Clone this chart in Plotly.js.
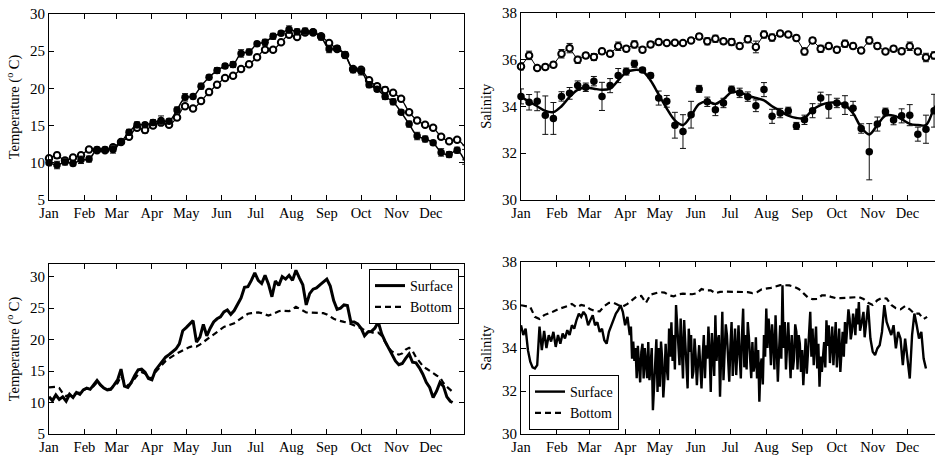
<!DOCTYPE html>
<html>
<head>
<meta charset="utf-8">
<script src="https://cdn.plot.ly/plotly-3.0.1.min.js"></script>
<style>
  html, body { margin: 0; padding: 0; background: #fff; overflow: hidden; }
  #chart { width: 945px; height: 455px; }
</style>
</head>
<body>
<div id="chart"></div>
<script>
// ---- Month ticks (day of year) ----
const monthDays = [1, 32, 60, 91, 121, 152, 182, 213, 244, 274, 305, 335];
const monthNames = ['Jan', 'Feb', 'Mar', 'Apr', 'May', 'Jun', 'Jul', 'Aug', 'Sep', 'Oct', 'Nov', 'Dec'];

// ---- Weekly means (top panels) ----
const weekDay = [1, 8, 15, 22, 29, 36, 43, 50, 57, 64, 71, 78, 85, 92, 99, 106, 113, 120, 127, 134,
  141, 148, 155, 162, 169, 176, 183, 190, 197, 204, 211, 218, 225, 232, 239, 246, 253, 260, 267, 274,
  281, 288, 295, 302, 309, 316, 323, 330, 337, 344, 351, 358, 365];

const tempSurfWeek = [10.0, 9.7, 10.1, 9.9, 10.4, 10.5, 11.8, 11.8, 11.8, 12.8, 14.1, 15.1, 15.1, 15.4, 15.7, 15.6, 17.1, 18.8, 18.9, 20.3,
  21.5, 22.4, 23.0, 23.2, 24.7, 24.9, 26.0, 26.2, 27.0, 27.4, 27.9, 27.6, 27.7, 27.6, 26.9, 25.3, 25.4, 24.5, 22.5, 22.3,
  20.5, 19.9, 18.9, 18.2, 16.8, 15.2, 13.6, 13.2, 12.7, 11.4, 11.1, 11.7, 10.1];
const tempSurfErr = [0.4, 0.5, 0.4, 0.3, 0.5, 0.4, 0.3, 0.3, 0.5, 0.3, 0.4, 0.4, 0.3, 0.4, 0.6, 0.3, 0.4, 0.5, 0.3, 0.4,
  0.3, 0.4, 0.3, 0.4, 0.5, 0.4, 0.3, 0.4, 0.4, 0.3, 0.5, 0.4, 0.4, 0.3, 0.4, 0.5, 0.3, 0.4, 0.4, 0.5,
  0.4, 0.3, 0.4, 0.4, 0.3, 0.4, 0.5, 0.4, 0.3, 0.5, 0.4, 0.4, 0.3];
const tempBotWeek = [10.6, 11.0, 10.3, 10.7, 11.0, 11.8, 11.7, 11.7, 12.1, 12.8, 13.5, 14.7, 14.4, 15.0, 15.4, 15.1, 16.1, 17.6, 17.3, 18.3,
  19.5, 20.5, 21.4, 21.7, 22.6, 23.25, 24.2, 25.2, 25.2, 26.2, 27.2, 26.9, 27.5, 27.5, 27.0, 26.1, 25.3, 24.5, 22.6, 22.5,
  21.1, 20.3, 19.8, 19.4, 18.6, 16.8, 15.7, 15.1, 14.7, 13.5, 12.9, 13.1, 12.1];
const tempBotErr = [0.3, 0.4, 0.3, 0.3, 0.3, 0.3, 0.3, 0.3, 0.3, 0.3, 0.3, 0.3, 0.4, 0.3, 0.3, 0.3, 0.3, 0.3, 0.3, 0.3,
  0.3, 0.3, 0.3, 0.3, 0.3, 0.3, 0.3, 0.3, 0.3, 0.3, 0.3, 0.3, 0.3, 0.3, 0.3, 0.3, 0.3, 0.4, 0.3, 0.3,
  0.3, 0.3, 0.4, 0.3, 0.3, 0.3, 0.3, 0.3, 0.3, 0.3, 0.3, 0.3, 0.3];

const salSurfWeek = [34.42, 34.17, 34.21, 33.62, 33.48, 34.42, 34.55, 34.88, 34.81, 35.07, 34.42, 34.88, 35.31, 35.48, 35.81, 35.55, 35.31, 34.35, 34.21, 33.19,
  32.92, 33.64, 34.74, 34.19, 33.85, 34.14, 34.71, 34.57, 34.41, 34.02, 34.71, 33.57, 33.71, 33.81, 33.16, 33.42, 33.81, 34.35, 33.99, 34.14,
  34.05, 33.91, 33.05, 32.06, 33.24, 33.77, 33.41, 33.59, 33.62, 32.81, 33.02, 33.81, 34.3];
const salSurfErr = [0.32, 0.33, 0.4, 0.82, 0.68, 0.2, 0.25, 0.2, 0.18, 0.2, 0.6, 0.3, 0.3, 0.15, 0.15, 0.1, 0.1, 0.3, 0.25, 0.55,
  0.72, 0.57, 0.15, 0.2, 0.25, 0.2, 0.15, 0.2, 0.2, 0.25, 0.3, 0.3, 0.2, 0.15, 0.15, 0.2, 0.3, 0.25, 0.5, 0.2,
  0.4, 0.3, 0.2, 1.2, 0.3, 0.15, 0.2, 0.3, 0.45, 0.3, 0.6, 0.7, 0.5];
const salSurfSmooth = [34.4, 34.2, 34.0, 33.8, 33.75, 34.0, 34.4, 34.7, 34.8, 34.75, 34.7, 34.75, 35.1, 35.45, 35.55, 35.5, 35.1, 34.5, 33.9, 33.4,
  33.2, 33.6, 34.1, 34.2, 34.1, 34.3, 34.6, 34.6, 34.45, 34.35, 34.25, 34.0, 33.8, 33.6, 33.5, 33.5, 33.85, 34.05, 34.15, 34.15,
  34.05, 33.7, 33.1, 32.8, 33.2, 33.6, 33.6, 33.45, 33.25, 33.2, 33.2, 33.9, 34.4];
const salBotWeek = [35.70, 36.17, 35.63, 35.68, 35.77, 36.24, 36.48, 35.98, 36.17, 36.10, 36.35, 36.24, 36.56, 36.45, 36.64, 36.41, 36.64, 36.74, 36.70, 36.71,
  36.70, 36.81, 36.98, 36.77, 36.88, 36.77, 36.74, 36.57, 36.86, 36.53, 37.06, 36.93, 37.10, 37.06, 36.91, 36.34, 36.81, 36.45, 36.57, 36.41,
  36.67, 36.57, 36.38, 36.81, 36.57, 36.34, 36.45, 36.35, 36.56, 36.34, 36.08, 36.17, 36.1];
const salBotErr = [0.15, 0.18, 0.1, 0.1, 0.12, 0.18, 0.2, 0.15, 0.12, 0.15, 0.12, 0.12, 0.18, 0.12, 0.15, 0.12, 0.12, 0.12, 0.1, 0.1,
  0.1, 0.1, 0.12, 0.15, 0.15, 0.12, 0.15, 0.12, 0.15, 0.25, 0.15, 0.15, 0.12, 0.1, 0.12, 0.15, 0.12, 0.15, 0.12, 0.12,
  0.15, 0.12, 0.12, 0.15, 0.12, 0.1, 0.12, 0.12, 0.18, 0.12, 0.18, 0.15, 0.15];

// ---- Continuous records (bottom panels) ----
const tempDay = [1, 4, 7, 10, 13, 16, 19, 22, 25, 28, 31, 34, 37, 40, 43, 46, 49, 52, 55, 58,
  61, 64, 67, 70, 73, 76, 79, 82, 85, 88, 91, 94, 97, 100, 103, 106, 109, 112, 115, 118,
  121, 124, 127, 130, 133, 136, 139, 142, 145, 148, 151, 154, 157, 160, 163, 166, 169, 172, 175, 178,
  181, 184, 187, 190, 193, 196, 199, 202, 205, 208, 211, 214, 217, 220, 223, 226, 229, 232, 235, 238,
  241, 244, 247, 250, 253, 256, 259, 262, 265, 268, 271, 274, 277, 280, 283, 286, 289, 292, 295, 298,
  301, 304, 307, 310, 313, 316, 319, 322, 325, 328, 331, 334, 337, 340, 343, 346, 349, 352, 354];
const tempSurfDaily = [10.9, 10.3, 11.2, 10.5, 10.9, 10.2, 11.3, 10.8, 11.6, 11.3, 12.0, 12.3, 12.1, 12.9, 13.5, 12.8, 12.3, 12.0, 12.1, 12.8,
  13.6, 15.3, 12.6, 12.4, 13.2, 14.3, 15.2, 15.3, 14.8, 13.8, 13.6, 15.1, 15.8, 16.6, 17.2, 17.6, 18.0, 18.5, 19.3, 21.4,
  21.9, 22.5, 23.0, 19.6, 20.4, 22.4, 20.6, 21.8, 22.8, 23.3, 23.6, 24.4, 24.7, 24.0, 24.6, 25.6, 26.6, 28.3, 28.4, 29.4,
  30.6, 29.4, 28.9, 30.2, 28.8, 26.8, 29.3, 28.6, 30.0, 29.6, 30.2, 29.4, 31.0, 29.8, 28.7, 25.5, 27.3, 28.0, 28.2, 28.7,
  29.2, 29.6, 28.5, 26.2, 24.8, 25.0, 25.5, 25.4, 22.8, 22.8, 22.5, 21.8, 20.6, 21.2, 21.3, 21.8, 22.8, 20.9, 19.7, 18.7,
  17.6, 16.6, 16.0, 16.2, 17.0, 17.7, 16.4, 16.3, 15.5, 14.5, 13.2, 12.4, 10.8, 11.8, 13.2, 12.6, 10.9, 10.2, 10.0];
const tempBotDaily = [12.4, 12.4, 12.5, 12.3, 11.5, 11.0, 11.3, 11.2, 11.5, 11.6, 12.0, 12.2, 12.2, 12.6, 13.2, 12.8, 12.3, 12.1, 12.2, 12.6,
  13.1, 14.2, 13.2, 12.7, 13.1, 13.8, 14.5, 14.8, 14.6, 14.0, 13.8, 14.8, 15.4, 16.0, 16.6, 17.0, 17.4, 17.7, 18.0, 18.3,
  18.6, 18.8, 19.0, 18.9, 19.2, 19.6, 20.0, 20.4, 20.9, 21.3, 21.7, 22.0, 22.2, 22.4, 22.6, 23.0, 23.4, 23.8, 24.1, 24.2,
  24.3, 24.3, 24.2, 24.0, 23.8, 24.0, 24.3, 24.5, 24.6, 24.5, 24.5, 24.8, 25.2, 24.9, 24.6, 24.3, 24.3, 24.3, 24.2, 24.2,
  24.2, 24.0, 23.6, 23.3, 23.1, 22.9, 22.8, 22.7, 22.5, 22.3, 22.1, 21.8, 21.5, 21.3, 21.1, 21.0, 21.1, 20.6, 19.6, 18.7,
  18.1, 17.8, 17.6, 17.8, 18.4, 18.7, 18.2, 17.2, 16.4, 15.8, 15.4, 15.0, 14.6, 14.3, 14.0, 13.1, 12.5, 12.1, 11.7];

// surface salinity, odd days through the year
const salSurfDay = [1, 3, 5, 7, 9, 11, 13, 15, 17, 19, 21, 23, 25, 27, 29, 31, 33, 35, 37, 39,
  41, 43, 45, 47, 49, 51, 53, 55, 57, 59, 61, 63, 65, 67, 69, 71, 73, 75, 77, 79,
  81, 83, 85, 87, 89, 91, 93, 95, 97, 99, 101, 103, 105, 107, 109, 111, 113, 115, 117, 119,
  121, 123, 125, 127, 129, 131, 133, 135, 137, 139, 141, 143, 145, 147, 149, 151, 153, 155, 157, 159,
  161, 163, 165, 167, 169, 171, 173, 175, 177, 179, 181, 183, 185, 187, 189, 191, 193, 195, 197, 199,
  201, 203, 205, 207, 209, 211, 213, 215, 217, 219, 221, 223, 225, 227, 229, 231, 233, 235, 237, 239,
  241, 243, 245, 247, 249, 251, 253, 255, 257, 259, 261, 263, 265, 267, 269, 271, 273, 275, 277, 279,
  281, 283, 285, 287, 289, 291, 293, 295, 297, 299, 301, 303, 305, 307, 309, 311, 313, 315, 317, 319,
  321, 323, 325, 327, 329, 331, 333, 335, 337, 339, 341, 343, 345, 347, 349, 351];
const salSurfDaily = [35.06, 34.6, 34.9, 33.9, 33.36, 33.1, 33.05, 33.2, 35.0, 33.9, 34.8, 34.0, 34.6, 34.3, 34.75, 34.05, 34.6, 34.2, 34.67, 34.44,
  34.83, 34.6, 35.06, 34.9, 35.3, 35.6, 35.45, 35.68, 35.52, 35.06, 35.3, 35.52, 35.06, 35.2, 34.75, 34.9, 34.36, 34.2, 34.75, 35.06,
  35.37, 35.6, 35.76, 35.99, 35.68, 35.06, 35.45, 34.6, 33.5, 33.4, 32.6, 33.2, 33.82, 32.58, 33.3, 34.28, 33.2, 31.11, 33.5, 31.96,
  32.2, 33.51, 32.6, 33.05, 34.9, 35.2, 34.6, 36.0, 34.28, 35.37, 32.58, 34.13, 32.12, 33.82, 32.58, 34.44, 32.27, 34.13, 32.12, 34.6,
  34.13, 35.0, 31.96, 33.82, 35.52, 34.28, 31.73, 35.68, 33.82, 34.6, 32.43, 35.21, 33.82, 32.74, 35.06, 32.58, 35.83, 34.6, 35.21, 33.51,
  34.28, 33.2, 32.58, 31.5, 33.51, 34.6, 35.83, 35.37, 33.2, 34.28, 35.52, 32.43, 35.06, 36.92, 35.21, 34.13, 33.82, 34.6, 33.51, 34.75,
  34.6, 32.89, 32.27, 34.44, 33.82, 35.68, 34.9, 34.28, 33.05, 32.2, 32.89, 34.28, 35.29, 35.06, 34.28, 33.2, 35.21, 34.28, 32.89, 34.75,
  35.21, 34.9, 35.37, 34.75, 35.21, 35.83, 36.14, 35.06, 35.68, 35.06, 35.99, 34.44, 33.82, 33.67, 33.98, 34.13, 34.75, 35.99, 35.21, 34.9,
  34.6, 35.06, 33.98, 34.75, 34.44, 33.2, 34.44, 33.51, 32.58, 34.6, 35.6, 35.06, 34.44, 34.75, 33.51, 33.05];
// surface salinity, even days through the variable spring-summer period
const salSurfEvenDay = [96, 98, 100, 102, 104, 106, 108, 110, 112, 114, 116, 118, 120, 122, 124, 126, 128, 130, 132, 134,
  136, 138, 140, 142, 144, 146, 148, 150, 152, 154, 156, 158, 160, 162, 164, 166, 168, 170, 172, 174,
  176, 178, 180, 182, 184, 186, 188, 190, 192, 194, 196, 198, 200, 202, 204, 206, 208, 210, 212, 214,
  216, 218, 220, 222, 224, 226, 228, 230, 232, 234, 236, 238, 240, 242, 244, 246, 248, 250, 252, 254,
  256, 258, 260, 262, 264, 266, 268, 270, 272, 274, 276, 278, 280, 282, 284, 286, 288, 290, 292, 294,
  296, 298];
const salSurfEven = [35.0, 34.3, 34.0, 34.1, 32.4, 34.2, 34.0, 32.6, 32.5, 34.0, 32.3, 34.4, 34.0, 34.3, 31.7, 34.2, 32.5, 33.6, 33.4, 33.0,
  34.9, 33.2, 33.8, 35.3, 33.0, 34.9, 34.6, 32.9, 33.6, 33.3, 33.1, 33.6, 32.6, 33.5, 33.8, 34.7, 32.7, 33.4, 34.6, 33.5,
  32.5, 35.1, 33.6, 34.1, 32.7, 34.9, 34.2, 33.6, 34.6, 33.1, 33.0, 34.5, 32.6, 32.9, 34.5, 33.9, 33.2, 32.3, 33.6, 34.0,
  34.6, 35.1, 33.0, 34.2, 33.8, 33.5, 34.0, 33.0, 35.2, 32.6, 33.0, 35.1, 33.0, 34.2, 33.9, 33.3, 32.8, 34.3, 33.6, 33.2,
  35.0, 34.2, 33.6, 33.8, 33.1, 34.1, 33.3, 35.0, 34.0, 33.1, 34.9, 34.0, 33.6, 34.2, 35.8, 34.4, 35.6, 34.6, 35.1, 34.8,
  35.5, 34.5];

const salBotDay = [1, 5, 9, 13, 17, 21, 25, 29, 33, 37, 41, 45, 49, 53, 57, 61, 65, 69, 73, 77,
  81, 85, 89, 93, 97, 101, 105, 109, 113, 117, 121, 125, 129, 133, 137, 141, 145, 149, 153, 157,
  161, 165, 169, 173, 177, 181, 185, 189, 193, 197, 201, 205, 209, 213, 217, 221, 225, 229, 233, 237,
  241, 245, 249, 253, 257, 261, 265, 269, 273, 277, 281, 285, 289, 293, 297, 301, 305, 309, 313, 317,
  321, 325, 329, 333, 337, 341, 345, 349, 352];
const salBotDaily = [35.99, 35.94, 35.91, 35.45, 35.35, 35.53, 35.6, 35.7, 35.8, 35.87, 35.95, 36.05, 35.9, 36.0, 35.95, 35.8, 35.72, 35.7, 35.95, 36.1,
  36.1, 36.0, 35.93, 36.05, 36.22, 36.4, 36.42, 36.1, 36.48, 36.53, 36.6, 36.58, 36.45, 36.4, 36.5, 36.53, 36.5, 36.5, 36.55, 36.74,
  36.68, 36.68, 36.55, 36.61, 36.62, 36.62, 36.61, 36.61, 36.61, 36.6, 36.55, 36.6, 36.73, 36.76, 36.8, 36.86, 36.92, 36.92, 36.91, 36.85,
  36.75, 36.55, 36.35, 36.27, 36.28, 36.45, 36.45, 36.38, 36.32, 36.32, 36.33, 36.33, 36.37, 36.37, 36.28, 36.1, 36.0, 36.22, 36.33, 36.3,
  36.0, 35.85, 35.8, 35.95, 35.8, 35.6, 35.6, 35.35, 35.45];

// merge the odd-day and even-day surface salinity records into one time-ordered series
const salSurfAll = salSurfDay.map((d, i) => [d, salSurfDaily[i]])
  .concat(salSurfEvenDay.map((d, i) => [d, salSurfEven[i]]))
  .sort((a, b) => a[0] - b[0]);

// ---- Drawing ----
const W = 945, H = 455;
const FONT = '"Liberation Serif", "Times New Roman", Times, serif';
const px = v => v / W;
const py = v => 1 - v / H;

function errBars(arr) {
  return { type: 'data', array: arr, visible: true, color: '#111', thickness: 1, width: 3 };
}
const openMarker = { symbol: 'circle', size: 6.5, color: '#ffffff', line: { color: '#000', width: 2 } };
const filledMarker = { symbol: 'circle', size: 7.5, color: '#000', line: { width: 0 } };

const traces = [
  // Top-left: weekly temperature
  { x: weekDay, y: tempBotWeek, xaxis: 'x', yaxis: 'y', mode: 'lines+markers', showlegend: false, cliponaxis: false,
    line: { color: '#000', width: 1.3, shape: 'spline' }, marker: openMarker, error_y: errBars(tempBotErr) },
  { x: weekDay, y: tempSurfWeek, xaxis: 'x', yaxis: 'y', mode: 'lines+markers', showlegend: false, cliponaxis: false,
    line: { color: '#000', width: 1.5, shape: 'spline' }, marker: filledMarker, error_y: errBars(tempSurfErr) },

  // Top-right: weekly salinity
  { x: weekDay, y: salBotWeek, xaxis: 'x2', yaxis: 'y2', mode: 'lines+markers', showlegend: false, cliponaxis: false,
    line: { color: '#000', width: 1 }, marker: openMarker, error_y: errBars(salBotErr) },
  { x: weekDay, y: salSurfWeek, xaxis: 'x2', yaxis: 'y2', mode: 'markers', showlegend: false, cliponaxis: false,
    marker: filledMarker, error_y: errBars(salSurfErr) },
  { x: weekDay, y: salSurfSmooth, xaxis: 'x2', yaxis: 'y2', mode: 'lines', showlegend: false, cliponaxis: false,
    line: { color: '#000', width: 2.5, shape: 'spline' } },

  // Bottom-left: continuous temperature
  { x: tempDay, y: tempSurfDaily, xaxis: 'x3', yaxis: 'y3', mode: 'lines', name: 'Surface', legend: 'legend',
    line: { color: '#000', width: 3 } },
  { x: tempDay, y: tempBotDaily, xaxis: 'x3', yaxis: 'y3', mode: 'lines', name: 'Bottom', legend: 'legend',
    line: { color: '#000', width: 2.2, dash: '6px,4px' } },

  // Bottom-right: continuous salinity
  { x: salSurfAll.map(p => p[0]), y: salSurfAll.map(p => p[1]), xaxis: 'x4', yaxis: 'y4', mode: 'lines',
    name: 'Surface', legend: 'legend2', line: { color: '#000', width: 2.4 } },
  { x: salBotDay, y: salBotDaily, xaxis: 'x4', yaxis: 'y4', mode: 'lines', name: 'Bottom', legend: 'legend2',
    line: { color: '#000', width: 2.2, dash: '6px,4px' } }
];

function xAxis(domain, anchor) {
  return {
    domain: domain, anchor: anchor, range: [1, 364],
    tickmode: 'array', tickvals: monthDays, ticktext: monthNames,
    ticks: 'inside', ticklen: 5, tickcolor: '#000', tickwidth: 1,
    showline: true, linecolor: '#000', linewidth: 1, mirror: 'allticks',
    showgrid: false, zeroline: false,
    tickfont: { family: FONT, size: 14.5, color: '#000' }
  };
}
function yAxis(domain, anchor, range, dtick, title) {
  return {
    domain: domain, anchor: anchor, range: range,
    tickmode: 'linear', tick0: range[0], dtick: dtick,
    ticks: 'inside', ticklen: 5, tickcolor: '#000', tickwidth: 1,
    showline: true, linecolor: '#000', linewidth: 1, mirror: 'allticks',
    showgrid: false, zeroline: false,
    tickfont: { family: FONT, size: 15, color: '#000' },
    title: { text: title, font: { family: FONT, size: 14.5, color: '#000' }, standoff: 6 }
  };
}

const leftDom = [px(49), px(464)];
const rightDom = [px(521), px(941)];
const legendStyle = {
  bgcolor: '#fff', bordercolor: '#000', borderwidth: 1,
  font: { family: FONT, size: 14, color: '#000' },
  tracegroupgap: 0, itemwidth: 30
};

const layout = {
  width: W, height: H,
  margin: { l: 0, r: 0, t: 0, b: 0 },
  paper_bgcolor: '#fff', plot_bgcolor: '#fff',
  font: { family: FONT, color: '#000' },
  showlegend: true,
  xaxis: xAxis(leftDom, 'y'),
  yaxis: yAxis([py(200), py(14)], 'x', [5, 30], 5, 'Temperature (<sup>o</sup> C)'),
  xaxis2: xAxis(rightDom, 'y2'),
  yaxis2: yAxis([py(200), py(12.5)], 'x2', [30, 38], 2, 'Salinity'),
  xaxis3: xAxis(leftDom, 'y3'),
  yaxis3: yAxis([py(434), py(264)], 'x3', [5, 32], 5, 'Temperature (<sup>o</sup> C)'),
  xaxis4: xAxis(rightDom, 'y4'),
  yaxis4: yAxis([py(434), py(262)], 'x4', [30, 38], 2, 'Salinity'),
  legend: Object.assign({ x: px(459), xanchor: 'right', y: py(269), yanchor: 'top' }, legendStyle),
  legend2: Object.assign({ x: px(529), xanchor: 'left', y: py(430), yanchor: 'bottom' }, legendStyle)
};

Plotly.newPlot('chart', traces, layout, { displayModeBar: false, staticPlot: true, responsive: false });
</script>
</body>
</html>
